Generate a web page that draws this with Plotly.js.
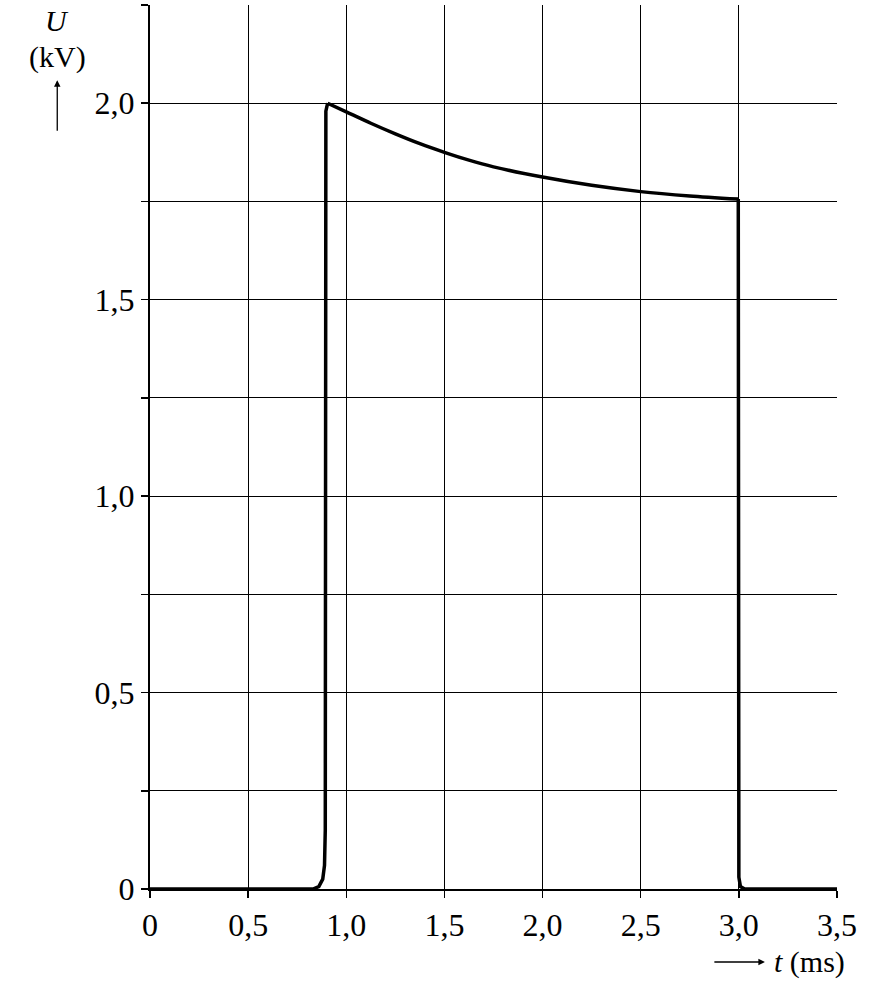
<!DOCTYPE html>
<html>
<head>
<meta charset="utf-8">
<script src="https://cdn.plot.ly/plotly-3.0.1.min.js"></script>
<style>
  body { margin: 0; background: #fff; }
  #myGraph { width: 883px; height: 1000px; }
</style>
</head>
<body>
<div id="myGraph"></div>
<script>
// time (ms) and voltage (kV), in three pieces
let riseT = [0, 0.83, 0.86, 0.88, 0.889, 0.893, 0.896, 0.905];
let riseU = [0, 0, 0.006, 0.025, 0.06, 0.15, 1.98, 2.0];

let decayT = [0.905, 1.0, 1.125, 1.25, 1.375, 1.5, 1.625, 1.75, 2.0, 2.25, 2.5, 2.75, 2.997];
let decayU = [2.0, 1.978, 1.949, 1.922, 1.897, 1.875, 1.855, 1.838, 1.812, 1.791, 1.775, 1.764, 1.756];

let fallT = [2.997, 3.0, 3.008, 3.03, 3.5];
let fallU = [1.756, 0.03, 0.006, 0, 0];

let xTickVals = [0, 0.5, 1.0, 1.5, 2.0, 2.5, 3.0, 3.5];
let xTickText = ['0', '0,5', '1,0', '1,5', '2,0', '2,5', '3,0', '3,5'];
let yTickVals = [0, 0.25, 0.5, 0.75, 1.0, 1.25, 1.5, 1.75, 2.0, 2.25];
let yTickText = ['0', '', '0,5', '', '1,0', '', '1,5', '', '2,0', ''];

let serif = '"Liberation Serif", serif';

let curveLine = {
    color: 'black',
    width: 3.5
};

let trace1 = {
    type: 'scatter',
    mode: 'lines',
    x: riseT,
    y: riseU,
    line: curveLine,
    hoverinfo: 'skip'
};

let trace2 = {
    type: 'scatter',
    mode: 'lines',
    x: decayT,
    y: decayU,
    line: { color: 'black', width: 3.5, shape: 'spline', smoothing: 0.8 },
    hoverinfo: 'skip'
};

let trace3 = {
    type: 'scatter',
    mode: 'lines',
    x: fallT,
    y: fallU,
    line: curveLine,
    hoverinfo: 'skip'
};

let axisCommon = {
    tickcolor: 'black',
    tickwidth: 1.5,
    ticklen: 7,
    zeroline: false,
    fixedrange: true
};

let layout = {
    width: 883,
    height: 1000,
    margin: { l: 150, r: 46, t: 5, b: 111 },
    paper_bgcolor: 'white',
    plot_bgcolor: 'white',
    showlegend: false,
    font: { family: serif, size: 32, color: 'black' },
    xaxis: Object.assign({}, axisCommon, {
        range: [0, 3.5],
        tickvals: xTickVals,
        ticktext: xTickText,
        ticks: 'outside',
        showgrid: true,
        gridcolor: 'black',
        gridwidth: 1,
        showline: true,
        linecolor: 'black',
        linewidth: 2
    }),
    yaxis: Object.assign({}, axisCommon, {
        range: [0, 2.25],
        tickvals: yTickVals,
        ticktext: yTickText,
        ticks: 'outside',
        showgrid: true,
        gridcolor: 'black',
        gridwidth: 1,
        showline: true,
        linecolor: 'black',
        linewidth: 2
    }),
    xaxis2: Object.assign({}, axisCommon, {
        overlaying: 'x',
        anchor: 'y',
        side: 'bottom',
        range: [0, 3.5],
        tickvals: xTickVals,
        ticks: 'inside',
        showticklabels: false,
        showgrid: false
    }),
    yaxis2: Object.assign({}, axisCommon, {
        overlaying: 'y',
        anchor: 'x',
        side: 'left',
        range: [0, 2.25],
        tickvals: yTickVals,
        ticks: 'inside',
        showticklabels: false,
        showgrid: false
    }),
    annotations: [
        {
            xref: 'paper', yref: 'paper',
            x: -0.135, y: 0.982,
            xanchor: 'center', yanchor: 'middle',
            text: '<i>U</i>',
            showarrow: false,
            font: { family: serif, size: 30 }
        },
        {
            xref: 'paper', yref: 'paper',
            x: -0.135, y: 0.941,
            xanchor: 'center', yanchor: 'middle',
            text: '(kV)',
            showarrow: false,
            font: { family: serif, size: 30 }
        },
        {
            xref: 'paper', yref: 'paper',
            x: -0.135, y: 0.915,
            text: '',
            showarrow: true,
            arrowhead: 2,
            arrowsize: 1,
            arrowwidth: 1.3,
            arrowcolor: 'black',
            ax: 0, ay: 52
        },
        {
            xref: 'paper', yref: 'paper',
            x: 0.895, y: -0.0826,
            text: '',
            showarrow: true,
            arrowhead: 2,
            arrowsize: 1,
            arrowwidth: 1.3,
            arrowcolor: 'black',
            ax: -52, ay: 0
        },
        {
            xref: 'paper', yref: 'paper',
            x: 0.905, y: -0.0826,
            xanchor: 'left', yanchor: 'middle',
            text: '<i>t</i> (ms)',
            showarrow: false,
            font: { family: serif, size: 30 }
        }
    ]
};

let data = [trace1, trace2, trace3];

Plotly.newPlot('myGraph', data, layout, { displayModeBar: false, staticPlot: true });
</script>
</body>
</html>
